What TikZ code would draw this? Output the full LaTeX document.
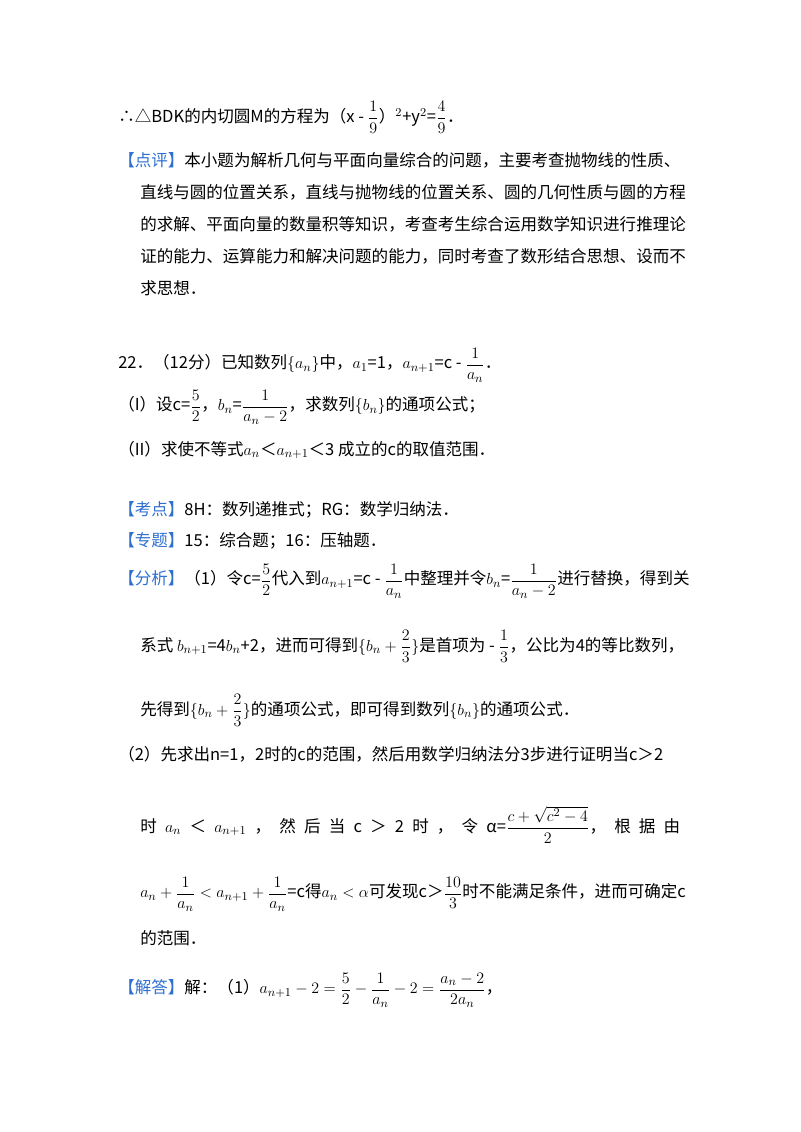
\documentclass[tikz,border=0pt]{standalone}
\usepackage{fontspec}
\usepackage{amsmath}
\setmainfont{Noto Sans CJK SC}
\definecolor{lblue}{HTML}{2E6FD0}
\newcommand{\bl}[1]{\textcolor{lblue}{#1}}
\newcommand{\fr}[2]{$\dfrac{#1}{#2}$}
\begin{document}
\begin{tikzpicture}[x=0.75pt,y=-0.75pt,
  txt/.style={anchor=west,inner sep=0pt,font=\fontsize{12.4}{15}\selectfont}]
\useasboundingbox (0,0) rectangle (800,1132);
\node[txt] (l1) at (118,117) {∴△BDK的内切圆M的方程为（x - \fr{1}{9}）$^2$+y$^2$=\fr{4}{9}．};
\node[txt] (l2) at (118,160) {\bl{【点评】}本小题为解析几何与平面向量综合的问题，主要考查抛物线的性质、};
\node[txt] (l3) at (140,192) {直线与圆的位置关系，直线与抛物线的位置关系、圆的几何性质与圆的方程};
\node[txt] (l4) at (140,224) {的求解、平面向量的数量积等知识，考查考生综合运用数学知识进行推理论};
\node[txt] (l5) at (140,256) {证的能力、运算能力和解决问题的能力，同时考查了数形结合思想、设而不};
\node[txt] (l6) at (140,288) {求思想．};
\node[txt] (l7) at (118,365) {22．（12分）已知数列$\{a_n\}$中，$a_1$=1，$a_{n+1}$=c - \fr{1}{a_n}．};
\node[txt] (l8) at (118,407) {（I）设c=\fr{5}{2}，$b_n$=\fr{1}{a_n-2}，求数列$\{b_n\}$的通项公式；};
\node[txt] (l9) at (118,450) {（II）求使不等式$a_n$＜$a_{n+1}$＜3 成立的c的取值范围．};
\node[txt] (l10) at (118,510) {\bl{【考点】}8H：数列递推式；RG：数学归纳法．};
\node[txt] (l11) at (118,541) {\bl{【专题】}15：综合题；16：压轴题．};
\node[txt] (l12) at (118,581) {\bl{【分析】}（1）令c=\fr{5}{2}代入到$a_{n+1}$=c - \fr{1}{a_n}中整理并令$b_n$=\fr{1}{a_n-2}进行替换，得到关};
\node[txt] (l13) at (140,646) {系式 $b_{n+1}$=4$b_n$+2，进而可得到$\{b_n+\dfrac{2}{3}\}$是首项为 - \fr{1}{3}，公比为4的等比数列，};
\node[txt] (l14) at (140,710) {先得到$\{b_n+\dfrac{2}{3}\}$的通项公式，即可得到数列$\{b_n\}$的通项公式．};
\node[txt] (l15) at (118,754) {（2）先求出n=1，2时的c的范围，然后用数学归纳法分3步进行证明当c＞2};
\node[txt] (l16) at (140,825) {\makebox[405pt][s]{时 $a_n$ ＜ $a_{n+1}$ ， 然 后 当 c ＞ 2 时 ， 令 α=\fr{c+\sqrt{c^2-4}}{2}， 根 据 由}};
\node[txt] (l17) at (140,894) {$a_n+\dfrac{1}{a_n}<a_{n+1}+\dfrac{1}{a_n}$=c得$a_n<\alpha$可发现c＞\fr{10}{3}时不能满足条件，进而可确定c};
\node[txt] (l18) at (140,938) {的范围．};
\node[txt] (l19) at (118,990) {\bl{【解答】}解：（1）$a_{n+1}-2=\dfrac{5}{2}-\dfrac{1}{a_n}-2=\dfrac{a_n-2}{2a_n}$，};
\end{tikzpicture}
\end{document}
